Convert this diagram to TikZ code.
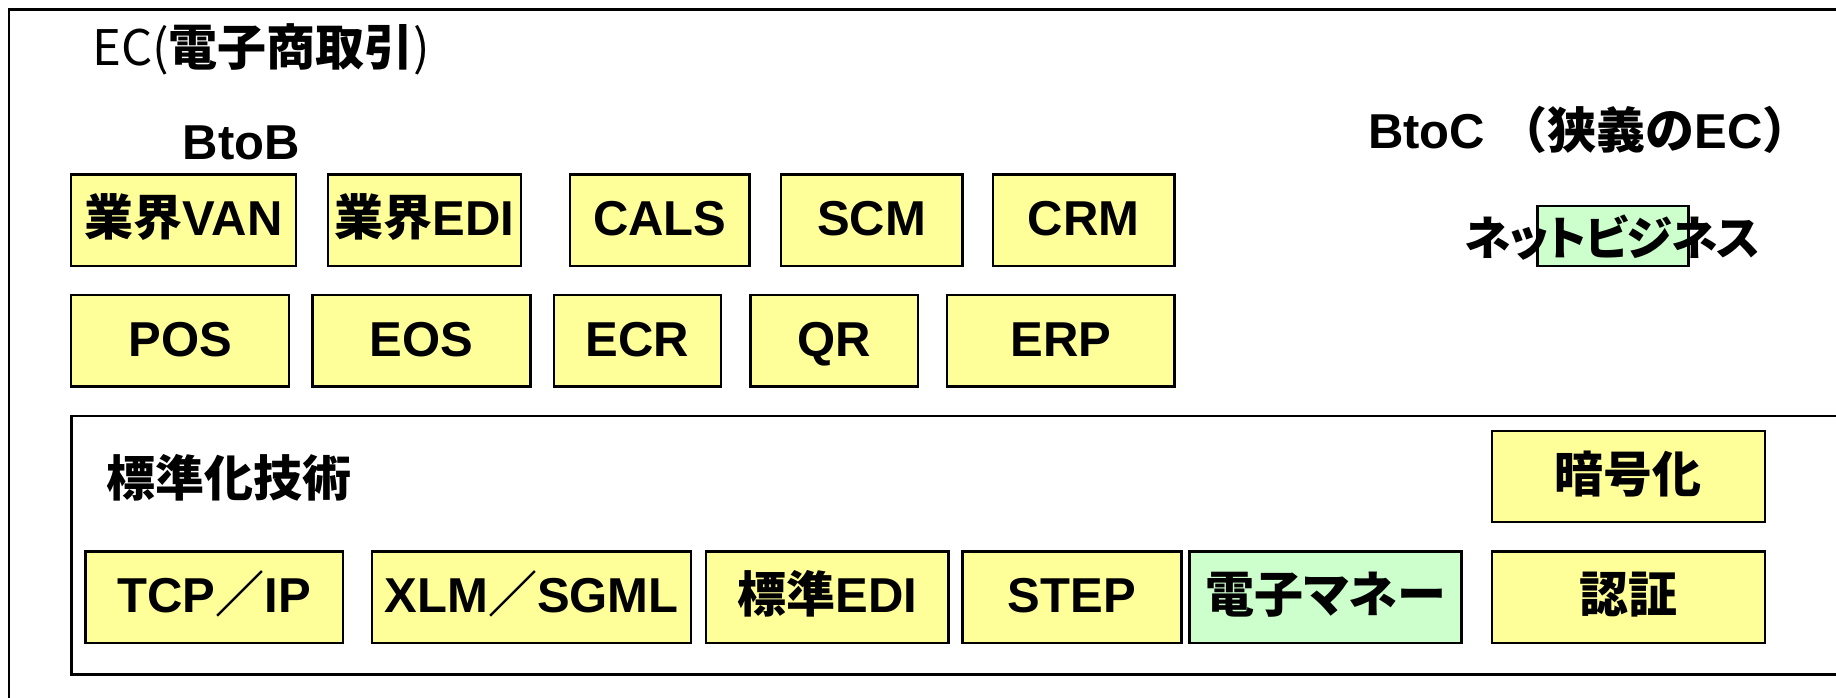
\documentclass[tikz,border=0pt]{standalone}
\usepackage{fontspec}
\setmainfont{Liberation Sans}
\newfontfamily\jp{Noto Sans CJK JP}
\newfontfamily\jpp[RawFeature=+palt]{Noto Sans CJK JP}
\newfontfamily\jpn[RawFeature=+palt, LetterSpace=-2.5]{Noto Sans CJK JP}
\definecolor{boxyellow}{HTML}{FFFF99}
\definecolor{boxgreen}{HTML}{CCFFCC}
\newcommand\lblsize{\fontsize{11.9pt}{14pt}\selectfont\bfseries}
\begin{document}
\begin{tikzpicture}[x=0.01cm,y=-0.01cm,
  every node/.style={font=\lblsize, inner sep=0pt},
  frame/.style={draw=black, line width=0.55pt},
  boxtext/.style={text height=0.27cm, text depth=0cm},
  ybox/.style={boxtext, draw=black, line width=0.55pt, fill=boxyellow, minimum height=0.78cm},
  gbox/.style={boxtext, draw=black, line width=0.55pt, fill=boxgreen, minimum height=0.78cm}]
\useasboundingbox (0,0) rectangle (1568,596);
\clip (0,0) rectangle (1568,596);

% outer EC frame and inner frame for the standardisation layer
\draw[frame] (8,640) -- (8,8) -- (1600,8);
\draw[frame] (1600,355) -- (61,355) -- (61,576) -- (1600,576);

% headings
\node[anchor=west] (ec) at (78,42) {{\jp\mdseries EC(}{\jp 電子商取引}{\jp\mdseries )}};
\node (btob) at (206,122) {BtoB};
\node (btoc) at (1358,111) {BtoC {\jp （狭義の}EC{\jp ）}};
\node[anchor=west] (std) at (90,408) {{\jp 標準化技術}};

% net business label with highlighted middle part
\node[gbox, minimum width=1.29cm, minimum height=0.51cm] (nbbox) at (1377.5,201.5) {};
\node[font=\fontsize{11.3pt}{14pt}\selectfont\bfseries] (nb) at (1377,203) {{\jpn ネットビジネス}};

% BtoB row 1
\node[ybox, minimum width=1.92cm] (van) at (157,188) {{\jp 業界}VAN};
\node[ybox, minimum width=1.65cm] (iedi) at (362.5,188) {{\jp 業界}EDI};
\node[ybox, minimum width=1.53cm] (cals) at (563.5,188) {CALS};
\node[ybox, minimum width=1.55cm] (scm) at (744.5,188) {SCM};
\node[ybox, minimum width=1.55cm] (crm) at (925.5,188) {CRM};

% BtoB row 2
\node[ybox, minimum width=1.86cm] (pos) at (154,291) {POS};
\node[ybox, minimum width=1.86cm] (eos) at (360,291) {EOS};
\node[ybox, minimum width=1.43cm] (ecr) at (544.5,291) {ECR};
\node[ybox, minimum width=1.43cm] (qr) at (712.5,291) {QR};
\node[ybox, minimum width=1.94cm] (erp) at (906,291) {ERP};

% standardisation technologies
\node[ybox, minimum width=2.33cm] (crypt) at (1390.5,407) {{\jp 暗号化}};
\node[ybox, minimum width=2.20cm] (tcp) at (183,510) {TCP{\jp ／}IP};
\node[ybox, minimum width=2.72cm] (xml) at (454,510) {XLM{\jp ／}SGML};
\node[ybox, minimum width=2.07cm] (sedi) at (706.5,510) {{\jp 標準}EDI};
\node[ybox, minimum width=1.87cm] (step) at (915.5,510) {STEP};
\node[gbox, minimum width=2.32cm] (emoney) at (1132,510) {{\jpp 電子マネー}};
\node[ybox, minimum width=2.33cm] (auth) at (1390.5,510) {{\jp 認証}};
\end{tikzpicture}
\end{document}
